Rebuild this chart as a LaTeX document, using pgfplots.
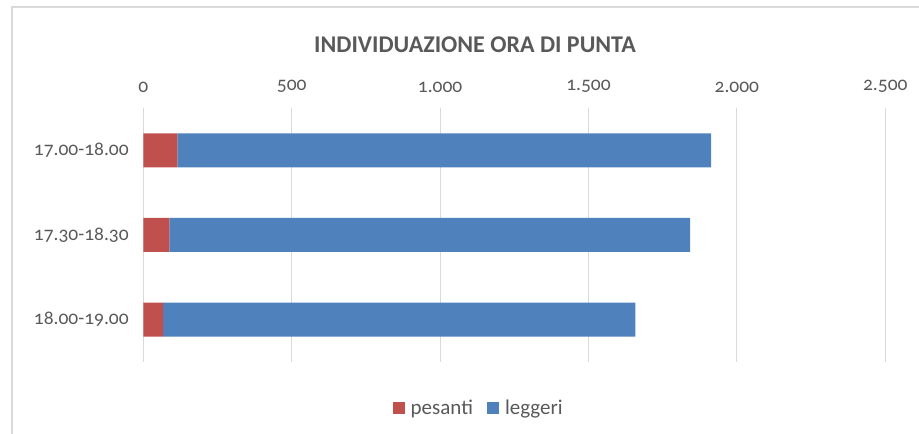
\documentclass[border=0pt]{standalone}
\usepackage{pgfplots}
\pgfplotsset{compat=1.18}
\usepackage{fontspec}
\setmainfont{Carlito}[Numbers=OldStyle]
\definecolor{txt}{HTML}{595959}
\definecolor{gridc}{HTML}{D9D9D9}
\definecolor{pes}{HTML}{C0504D}
\definecolor{legc}{HTML}{4F81BD}
\begin{document}
\begin{tikzpicture}[x=1pt,y=1pt]
\useasboundingbox (0,0) rectangle (919,434);
\draw[gridc, line width=1.3pt] (12,0) -- (12,427) -- (919,427);
\begin{axis}[at={(143.3pt,72pt)}, anchor=south west, scale only axis,
  width=742pt, height=254pt,
  xbar stacked, bar width=34pt,
  xmin=0, xmax=2500, ymin=-0.5, ymax=2.5,
  ytick={0,1,2}, yticklabels={18.00-19.00,17.30-18.30,17.00-18.00},
  xtick={0,500,1000,1500,2000,2500}, xticklabel pos=upper,
  axis line style={draw=none}, major tick length=0pt,
  xmajorgrids, grid style={gridc, line width=1pt},
  ticklabel style={font=\fontsize{19.5}{23}\selectfont, text=txt},
  xticklabel style={yshift=12pt},
  yticklabel style={xshift=-11pt},
  /pgf/number format/.cd, 1000 sep={.}, assume math mode=true,
  /pgfplots/.cd,
  legend style={at={(0.452,-0.181)}, anchor=center, draw=none, fill=none,
    legend columns=2, font=\fontsize{21}{25}\selectfont, text=txt,
    /tikz/every even column/.append style={column sep=12pt}},
  legend image code/.code={\fill[#1] (0pt,-6pt) rectangle (12pt,6pt); \path (16pt,0pt);},
]
\addplot[fill=pes, draw=none] coordinates {(67,0) (88,1) (115,2)};
\addplot[fill=legc, draw=none] coordinates {(1591,0) (1754,1) (1798,2)};
\legend{pesanti,leggeri}
\end{axis}
\node[font=\bfseries\fontsize{24}{28}\selectfont, text=txt] at (475,389) {INDIVIDUAZIONE ORA DI PUNTA};
\end{tikzpicture}
\end{document}
